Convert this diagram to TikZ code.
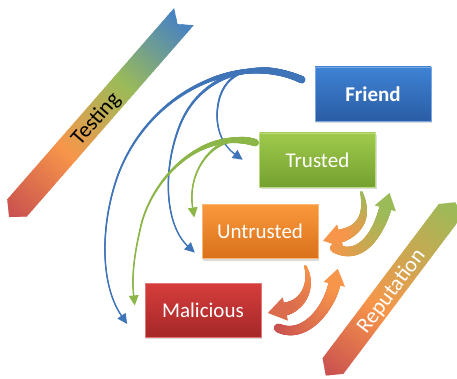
\documentclass[tikz,border=0pt]{standalone}
\usepackage{fontspec}
\setmainfont{Carlito}
\usetikzlibrary{calc,decorations.markings,shadows}

\definecolor{bandRed}{HTML}{C9504F}
\definecolor{bandOrange}{HTML}{F7964A}
\definecolor{bandGreen}{HTML}{9BBB59}
\definecolor{bandBlue}{HTML}{4A84C0}
\definecolor{linkBlue}{HTML}{3F74B8}
\definecolor{linkGreen}{HTML}{8CB648}
\definecolor{frTop}{HTML}{3E82D4}
\definecolor{frBot}{HTML}{2B5DA5}
\definecolor{trTop}{HTML}{9FCA4C}
\definecolor{trBot}{HTML}{74A030}
\definecolor{unTop}{HTML}{FA983C}
\definecolor{unBot}{HTML}{D9711B}
\definecolor{maTop}{HTML}{D63D3C}
\definecolor{maBot}{HTML}{A52828}

% colour slices along the local x axis, blending from #3 to #4 between x=#1 and x=#2
\newcommand\bandslices[4]{%
  \pgfmathtruncatemacro\bsn{ceil((#2-#1)/2)}%
  \foreach \k in {0,...,\bsn}{%
    \pgfmathtruncatemacro\bpc{100*\k/\bsn}%
    \fill[#4!\bpc!#3] ({#1+2*\k},-15) rectangle ({#1+2*\k+2.6},15);}}

\tikzset{
  statebox/.style n args={2}{minimum width=116pt, minimum height=54pt, inner sep=0pt,
    top color=#1, bottom color=#2, draw=#1!70!white, line width=0.6pt,
    text=white, font=\fontsize{21}{25}\selectfont,
    drop shadow={shadow xshift=1.2pt, shadow yshift=-2.4pt, opacity=0.28}},
  % brush stroke whose radius falls off cubically from #1 to #2, colour #3 -> #4
  taper/.style n args={4}{
    postaction={decorate, decoration={markings,
      mark=between positions 0 and 1 step 0.4pt with {%
        \pgfmathsetmacro\brf{\pgfkeysvalueof{/pgf/decoration/mark info/distance from start}/\pgfdecoratedpathlength}%
        \pgfmathsetmacro\brg{max(1-\brf,0)}%
        \pgfmathsetmacro\brr{#2+(#1-#2)*\brg*\brg*\brg}%
        \pgfmathtruncatemacro\brc{min(100,100*\brf)}%
        \fill[#4!\brc!#3] (0pt,0pt) circle[radius=\brr pt];}}}},
  % brush stroke whose radius changes linearly from #1 to #2, colour #3 -> #4
  swell/.style n args={4}{
    postaction={decorate, decoration={markings,
      mark=between positions 0 and 1 step 0.4pt with {%
        \pgfmathsetmacro\brf{\pgfkeysvalueof{/pgf/decoration/mark info/distance from start}/\pgfdecoratedpathlength}%
        \pgfmathsetmacro\brr{#1+(#2-#1)*min(\brf,1)}%
        \pgfmathtruncatemacro\brc{min(100,100*\brf)}%
        \fill[#4!\brc!#3] (0pt,0pt) circle[radius=\brr pt];}}}},
  % triangular head at the end of a path: half width #1, length #2, colour #3
  tiphead/.style n args={3}{
    postaction={decorate, decoration={markings,
      mark=at position 0.999 with {\fill[#3] (0pt,-#1pt) -- (#2pt,0pt) -- (0pt,#1pt) -- cycle;}}}},
}

\begin{document}
\begin{tikzpicture}[x=1pt,y=-1pt]
\fill[white] (0,0) rectangle (457,379);
\useasboundingbox (0,0) rectangle (457,379);

% ---- Testing band (points down-left, notched top) ----
\begin{scope}[shift={(17,208)}, rotate=48.9]
  \begin{scope}
    \clip (-12,0) -- (0,-13) -- (254,-13) -- (244,0) -- (254,13) -- (0,13) -- cycle;
    \bandslices{-12}{74}{bandRed}{bandOrange}
    \bandslices{74}{162}{bandOrange}{bandGreen}
    \bandslices{162}{246}{bandGreen}{bandBlue}
    \fill[bandBlue] (246,-15) rectangle (258,15);
  \end{scope}
  \node[transform shape, font=\fontsize{22}{26}\selectfont] (testing) at (119,1.5) {Testing};
\end{scope}

% ---- Reputation band ----
\begin{scope}[shift={(333,366)}, rotate=53]
  \begin{scope}
    \clip (-12,0) -- (0,-13) -- (193,-13) -- (205,0) -- (193,13) -- (0,13) -- cycle;
    \bandslices{-12}{72}{bandRed}{bandOrange}
    \bandslices{72}{200}{bandOrange}{bandGreen}
    \fill[bandGreen] (200,-15) rectangle (210,15);
  \end{scope}
  \node[transform shape, text=white, font=\fontsize{22}{26}\selectfont] (reputation) at (94.7,1.9) {Reputation};
\end{scope}

% ---- states ----
\node[statebox={frTop}{frBot}, font=\fontsize{21}{25}\selectfont\bfseries] (friend) at (373,94) {Friend};
\node[statebox={trTop}{trBot}] (trusted) at (317.5,160) {Trusted};
\node[statebox={unTop}{unBot}] (untrusted) at (260,231.5) {Untrusted};
\node[statebox={maTop}{maBot}] (malicious) at (203,310) {Malicious};

% ---- end points of the links ----
\coordinate (bt) at ($(friend.north west)+(-13,13)$);
\coordinate (gt) at ($(trusted.north west)+(-4,10)$);
\coordinate (b1e) at ($(trusted.west)+(-24.5,-6)$);
\coordinate (b2e) at ($(untrusted.west)+(-14,14.5)$);
\coordinate (b3e) at ($(malicious.west)+(-23,6)$);
\coordinate (g1e) at ($(untrusted.north west)+(-9,3.5)$);
\coordinate (g2e) at ($(malicious.north west)+(-11,13)$);
\coordinate (a1s) at ($(trusted.south east)+(-14.5,5)$);
\coordinate (a1e) at ($(untrusted.east)+(22,4.5)$);
\coordinate (a2s) at ($(untrusted.east)+(16,16.5)$);
\coordinate (a2e) at ($(trusted.south east)+(9.5,21)$);
\coordinate (a3s) at ($(untrusted.south east)+(-13,7.5)$);
\coordinate (a3e) at ($(malicious.east)+(24,-1)$);
\coordinate (a4s) at ($(malicious.east)+(17,18)$);
\coordinate (a4e) at ($(untrusted.south east)+(16,25.5)$);

% ---- testing links from Friend ----
\path[taper={3.6}{0.75}{linkBlue}{linkBlue}, tiphead={5}{10}{linkBlue}]
  (bt) .. controls (265,62) and (228,65) .. (219,100) .. controls (213,125) and (222,145) .. (b1e);
\path[taper={3.6}{0.75}{linkBlue}{linkBlue}, tiphead={5}{10}{linkBlue}]
  (bt) .. controls (255,58) and (200,75) .. (180,125) .. controls (162,170) and (165,225) .. (b2e);
\path[taper={3.6}{0.75}{linkBlue}{linkBlue}, tiphead={5}{10}{linkBlue}]
  (bt) .. controls (240,52) and (150,90) .. (118,175) .. controls (100,225) and (100,285) .. (b3e);

% ---- testing links from Trusted ----
\path[taper={3.6}{0.75}{linkGreen}{linkGreen}, tiphead={5}{10}{linkGreen}]
  (gt) .. controls (222,128) and (186,165) .. (g1e);
\path[taper={3.6}{0.75}{linkGreen}{linkGreen}, tiphead={5}{10}{linkGreen}]
  (gt) .. controls (200,128) and (150,180) .. (140,230) .. controls (133,260) and (132,280) .. (g2e);

% ---- reputation moves ----
\path[swell={1.5}{6.5}{bandGreen}{bandOrange}, tiphead={12}{18}{bandOrange}]
  (a1s) .. controls (368,214) and (362,230) .. (a1e);
\path[swell={4.5}{6}{bandOrange}{bandGreen}, tiphead={11}{16}{bandGreen}]
  (a2s) .. controls (362,262) and (379,231) .. (a2e);
\path[swell={1.5}{6.5}{bandOrange}{bandRed!60!bandOrange}, tiphead={12}{18}{bandRed!60!bandOrange}]
  (a3s) .. controls (313,286) and (303,305) .. (a3e);
\path[swell={4.5}{6}{bandRed}{bandOrange}, tiphead={11}{16}{bandOrange}]
  (a4s) .. controls (305,340) and (329,308) .. (a4e);

\end{tikzpicture}
\end{document}
